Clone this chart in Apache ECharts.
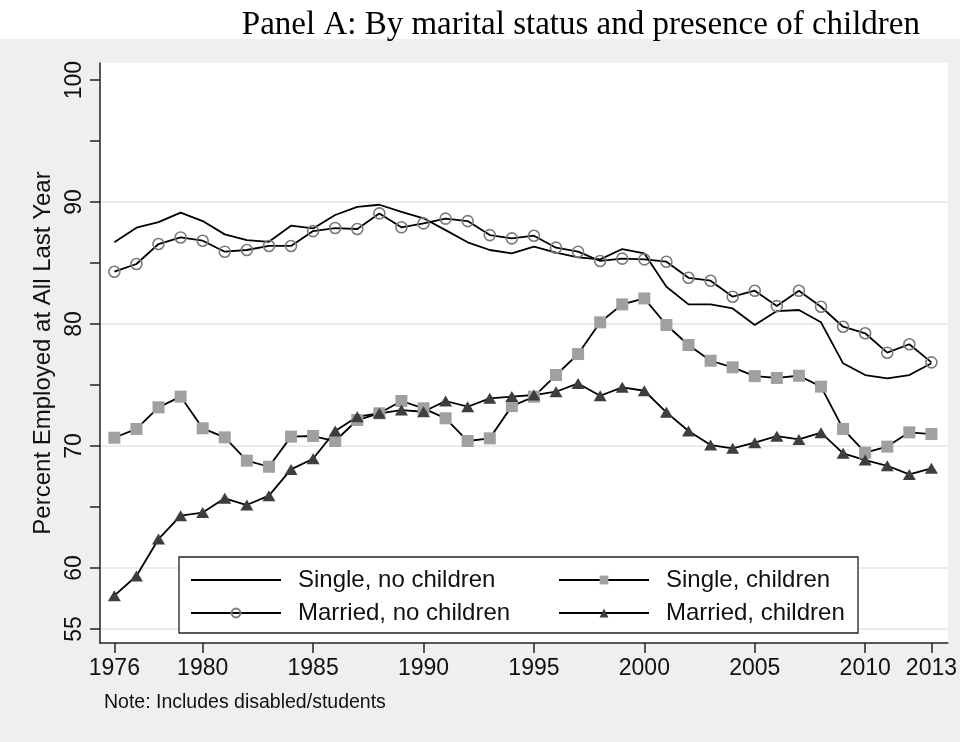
<!DOCTYPE html>
<html><head><meta charset="utf-8">
<script src="https://cdn.jsdelivr.net/npm/echarts@6/dist/echarts.min.js"></script>
<style>html,body{margin:0;padding:0;background:#fff}#c{width:960px;height:742px}</style>
</head><body><div id="c"></div>
<script>
const years = [1976,1977,1978,1979,1980,1981,1982,1983,1984,1985,1986,1987,1988,1989,1990,1991,1992,1993,1994,1995,1996,1997,1998,1999,2000,2001,2002,2003,2004,2005,2006,2007,2008,2009,2010,2011,2012,2013];
const singleNoChildren = [86.7,87.9,88.36,89.13,88.44,87.35,86.88,86.74,88.06,87.84,88.94,89.61,89.78,89.2,88.67,87.7,86.7,86.07,85.79,86.34,85.85,85.47,85.3,86.15,85.79,83.06,81.61,81.61,81.28,79.92,81.06,81.15,80.14,76.78,75.82,75.54,75.82,76.78];
const marriedNoChildren = [84.29,84.92,86.56,87.1,86.83,85.93,86.07,86.4,86.4,87.62,87.87,87.79,89.07,87.93,88.25,88.64,88.44,87.29,87.02,87.24,86.26,85.93,85.17,85.36,85.3,85.11,83.79,83.55,82.24,82.73,81.47,82.73,81.42,79.78,79.24,77.65,78.34,76.86];
const singleChildren = [70.68,71.4,73.17,74.05,71.45,70.71,68.8,68.3,70.77,70.82,70.41,72.13,72.68,73.69,73.09,72.27,70.41,70.63,73.27,74.04,75.82,77.54,80.14,81.61,82.1,79.92,78.28,76.99,76.45,75.73,75.58,75.76,74.87,71.4,69.45,69.95,71.12,70.98];
const marriedChildren = [57.73,59.34,62.37,64.29,64.54,65.71,65.16,65.93,68.08,68.96,71.23,72.4,72.68,72.95,72.81,73.69,73.22,73.91,74.05,74.18,74.45,75.13,74.12,74.81,74.53,72.76,71.23,70.08,69.81,70.27,70.81,70.54,71.09,69.4,68.85,68.38,67.67,68.17];
const xTickLabels = [1976,1980,1985,1990,1995,2000,2005,2010,2013];
const yTickLabels = [55,60,70,80,90,100];
const yTicks = [55,60,65,70,75,80,85,90,95,100];
const yGridLines = [55,60,70,80,90];
const names = ['Single, no children','Single, children','Married, no children','Married, children'];
const titleText = 'Panel A: By marital status and presence of children';
const yTitle = 'Percent Employed at All Last Year';
const noteText = 'Note: Includes disabled/students';

const pair = arr => years.map((y, i) => [y, arr[i]]);
const FONT = 'Liberation Sans';
const axisColor = '#222';

const chart = echarts.init(document.getElementById('c'), null, {renderer: 'canvas'});
chart.setOption({
  animation: false,
  backgroundColor: '#efefef',
  title: {
    text: titleText, right: 35, top: 4,
    textStyle: {fontFamily: 'Liberation Serif', fontSize: 33, fontWeight: 'normal', color: '#000'}
  },
  graphic: [
    {type: 'rect', z: 0, shape: {x: 0, y: 0, width: 960, height: 39}, style: {fill: '#fff'}},
    {type: 'rect', z: 3, shape: {x: 179, y: 557, width: 679, height: 76}, style: {fill: '#fff', stroke: '#222', lineWidth: 1.3}},
    {type: 'text', z: 3, left: 104, top: 693, style: {text: noteText, fontFamily: FONT, fontSize: 19.5, fill: '#111'}}
  ],
  grid: {left: 100, right: 12, top: 63, bottom: 99, show: true, backgroundColor: '#fff', borderWidth: 0},
  legend: [
    {orient: 'vertical', left: 190, top: 568, padding: 0, itemGap: 9, itemWidth: 90, itemHeight: 11, selectedMode: false, z: 4,
     textStyle: {fontFamily: FONT, fontSize: 24, lineHeight: 24, color: '#111', padding: [0, 0, 0, 12]},
     data: [{name: names[0], itemStyle: {color: 'rgba(0,0,0,0)', borderColor: 'rgba(0,0,0,0)', borderWidth: 0}}, {name: names[2]}]},
    {orient: 'vertical', left: 558, top: 568, padding: 0, itemGap: 9, itemWidth: 90, itemHeight: 11, selectedMode: false, z: 4,
     textStyle: {fontFamily: FONT, fontSize: 24, lineHeight: 24, color: '#111', padding: [0, 0, 0, 12]},
     data: [{name: names[1]}, {name: names[3]}]}
  ],
  xAxis: {
    type: 'value', min: 1975.35, max: 2013.74,
    axisLine: {lineStyle: {color: axisColor, width: 1.5}},
    axisTick: {customValues: xTickLabels, length: 10, lineStyle: {color: axisColor, width: 1.5}},
    axisLabel: {customValues: xTickLabels, fontFamily: FONT, fontSize: 23, color: '#111', margin: 14, formatter: v => String(v)},
    splitLine: {show: false}
  },
  yAxis: [
    {
      type: 'value', min: 53.85, max: 101.4, position: 'left',
      name: yTitle, nameLocation: 'middle', nameGap: 42,
      nameTextStyle: {fontFamily: FONT, fontSize: 24, color: '#111'},
      axisLine: {show: true, lineStyle: {color: axisColor, width: 1.5}},
      axisTick: {show: true, customValues: yTicks, length: 10, lineStyle: {color: axisColor, width: 1.5}},
      axisLabel: {customValues: yTickLabels, rotate: 90, margin: 14, fontFamily: FONT, fontSize: 23, color: '#111'},
      splitLine: {show: false}
    },
    {
      type: 'value', min: 53.85, max: 101.4, position: 'left',
      axisLine: {show: false},
      axisTick: {show: false, customValues: yGridLines},
      axisLabel: {show: false},
      splitLine: {show: true, lineStyle: {color: '#e4e4e4', width: 1.6}}
    }
  ],
  series: [
    {name: names[0], type: 'line', data: pair(singleNoChildren), symbol: 'none',
     lineStyle: {color: '#000', width: 1.8}, itemStyle: {color: '#000'}, z: 2},
    {name: names[2], type: 'line', data: pair(marriedNoChildren), symbol: 'circle', symbolSize: 11,
     lineStyle: {color: '#000', width: 1.8}, itemStyle: {color: 'rgba(0,0,0,0)', borderColor: '#7a7a7a', borderWidth: 1.6}, z: 2},
    {name: names[1], type: 'line', data: pair(singleChildren), symbol: 'rect', symbolSize: 12,
     lineStyle: {color: '#000', width: 1.8}, itemStyle: {color: '#a0a0a0', borderWidth: 0}, z: 2},
    {name: names[3], type: 'line', data: pair(marriedChildren), symbol: 'triangle', symbolSize: [13, 11],
     lineStyle: {color: '#000', width: 1.8}, itemStyle: {color: '#3e3e3e', borderWidth: 0}, z: 2}
  ]
});
</script></body></html>
